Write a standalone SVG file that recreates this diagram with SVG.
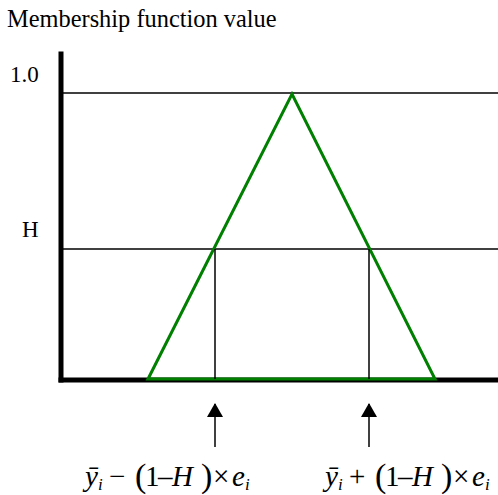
<svg xmlns="http://www.w3.org/2000/svg" width="498" height="495" viewBox="0 0 498 495">
<style>
text{font-family:"Liberation Serif","Times New Roman",serif;fill:#000}
.title{font-size:24.4px}
.lbl{font-size:23px}
.f{font-size:29px}
.it{font-style:italic}
.sub{font-size:17px;font-style:italic}
.par{font-size:34px}
.thin{stroke:#000;stroke-width:1.5;fill:none}
.axis{stroke:#000;stroke-width:5;fill:none;stroke-linecap:square}
.mf{stroke:#008000;stroke-width:3;fill:none;stroke-linejoin:miter}
</style>
<defs>
<marker id="ah" viewBox="0 0 14 16" refX="13" refY="8" markerWidth="14" markerHeight="16" markerUnits="userSpaceOnUse" orient="auto">
<path d="M0,0 L14,8 L0,16 z" fill="#000"/>
</marker>
</defs>
<g id="labels">
<text class="title" x="7" y="27">Membership function value</text>
<text class="lbl" x="10" y="82">1.0</text>
<text class="lbl" x="22" y="237">H</text>
</g>
<g id="axes">
<line class="thin" x1="61" y1="93" x2="498" y2="93"/>
<line class="thin" x1="61" y1="249" x2="498" y2="249"/>
<line class="axis" x1="61" y1="54" x2="61" y2="380"/>
<line class="axis" x1="61" y1="380" x2="498" y2="380"/>
</g>
<g id="membership">
<polygon class="mf" points="148,379 292,94 435,379"/>
</g>
<g id="connectors">
<line class="thin" x1="215" y1="447" x2="215" y2="404" marker-end="url(#ah)"/>
<line class="thin" x1="369" y1="447" x2="369" y2="404" marker-end="url(#ah)"/>
<line class="thin" x1="215" y1="249" x2="215" y2="379"/>
<line class="thin" x1="369" y1="249" x2="369" y2="379"/>
</g>
<g id="formula-left">
<text class="f" y="486"><tspan x="85" class="it">ȳ</tspan><tspan x="98" y="490" class="sub">i</tspan><tspan x="109" y="486">−</tspan><tspan x="135" y="487" class="par">(</tspan><tspan x="145" y="486">1</tspan><tspan x="158">–</tspan><tspan x="172" class="it">H</tspan><tspan x="201" y="487" class="par">)</tspan><tspan x="213" y="486">×</tspan><tspan x="232" class="it">e</tspan><tspan x="245" y="490" class="sub">i</tspan></text>
</g>
<g id="formula-right">
<text class="f" y="486"><tspan x="325" class="it">ȳ</tspan><tspan x="338" y="490" class="sub">i</tspan><tspan x="349" y="486">+</tspan><tspan x="375" y="487" class="par">(</tspan><tspan x="385" y="486">1</tspan><tspan x="398">–</tspan><tspan x="412" class="it">H</tspan><tspan x="441" y="487" class="par">)</tspan><tspan x="453" y="486">×</tspan><tspan x="472" class="it">e</tspan><tspan x="485" y="490" class="sub">i</tspan></text>
</g>
</svg>
